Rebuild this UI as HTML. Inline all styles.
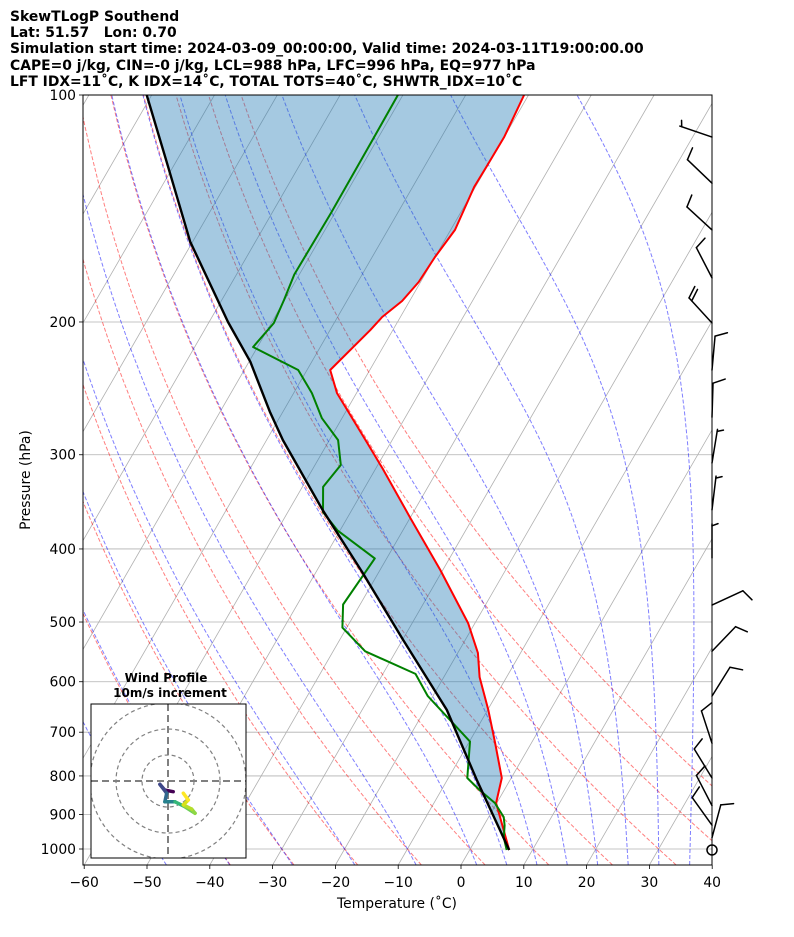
<!DOCTYPE html>
<html><head><meta charset="utf-8"><style>
html,body{margin:0;padding:0;background:#fff;}
svg{display:block;font-family:"DejaVu Sans","Liberation Sans",sans-serif;}
</style></head><body>
<svg id="chart" width="794" height="937" viewBox="0 0 794 937" xmlns="http://www.w3.org/2000/svg">
<defs><clipPath id="plotclip"><rect x="83" y="95" width="629" height="770"/></clipPath>
<clipPath id="insetclip"><rect x="91" y="704" width="155" height="154"/></clipPath></defs>
<g font-weight="bold" font-size="13.9" fill="#000" style="white-space:pre">
<text x="10" y="21">SkewTLogP Southend</text>
<text x="10" y="37" xml:space="preserve">Lat: 51.57   Lon: 0.70</text>
<text x="10" y="53">Simulation start time: 2024-03-09_00:00:00, Valid time: 2024-03-11T19:00:00.00</text>
<text x="10" y="70">CAPE=0 j/kg, CIN=-0 j/kg, LCL=988 hPa, LFC=996 hPa, EQ=977 hPa</text>
<text x="10" y="86">LFT IDX=11˚C, K IDX=14˚C, TOTAL TOTS=40˚C, SHWTR_IDX=10˚C</text>
</g>
<g id="bg" clip-path="url(#plotclip)"></g>
<g id="fillg" clip-path="url(#plotclip)"></g>
<g id="lines" clip-path="url(#plotclip)"></g>
<g id="barbs"></g>
<g id="axes"></g>
<g id="inset"></g>
</svg>
<script>
// ---- data ----
const tempP = [1003, 869, 805, 723, 654, 591.5, 549.5, 501.6, 426.6, 363, 314, 289.4, 248.5, 231.6, 205, 197, 187.6, 177, 164, 151, 132.4, 124.6, 113.7, 100];
const tempT = [6.3, -0.1, -1.5, -5.8, -9.9, -14.3, -16.8, -21.1, -30.4, -40.1, -48.7, -53.7, -63.1, -66.3, -63.6, -62.9, -61.2, -60.3, -60.0, -59.3, -60.2, -60.1, -60.0, -60.7];
const dewP = [1003, 965.8, 930.3, 907, 869, 835.4, 805, 720.4, 627, 585.8, 546.7, 508.6, 474, 411.7, 378, 357.4, 330.9, 309.5, 286.9, 268.3, 248.5, 231.6, 215.9, 200.7, 187, 173, 143.4, 113.7, 100];
const dewT = [5.9, 4.3, 3.3, 2.4, -0.3, -3.9, -7.0, -9.9, -20.8, -24.8, -34.9, -40.7, -42.7, -41.9, -50.4, -54.4, -56.7, -55.9, -58.6, -63.2, -67.1, -71.4, -80.7, -79.6, -80.1, -80.8, -80.6, -80.7, -80.8];
const parcelP = [1003, 810, 654, 528, 431, 355.5, 286.9, 263, 225.8, 200, 156.5, 122.6, 100];
const parcelT = [6.3, -5.3, -16.5, -29.9, -42.4, -54.6, -67.4, -72.1, -79.8, -87.0, -100.4, -111.5, -120.8];
const barbP = [113.7, 130.9, 151, 174.8, 200.6, 231.6, 267.5, 307.6, 355, 411, 474.7, 546.7, 627, 724, 805, 876, 930, 966];
const barbU = [4.7, 7.2, 7.4, 4.6, 13.5, -0.9, -0.3, -0.8, -0.6, 0, -9.1, -6.9, -5.3, 3.1, 5.2, 4.6, 5.8, -2.6];
const barbV = [-1.6, -6.9, -6.8, -8.9, -14.7, -10, -10, -4.9, -5, -5, -4.2, -7.2, -8.5, -9.5, -8.5, -8.9, -8.1, -9.7];
const hodoU = [2.0, -1.2, -3.1, -0.5, -1.2, 2.7, 6.5, 10.4, 9.1, 5.9, 7.8, 5.9];
const hodoV = [-4.1, -3.5, -1.3, -4.7, -8.0, -8.0, -9.9, -12.4, -10.8, -9.2, -7.3, -4.7];
const xTicks = [-60, -50, -40, -30, -20, -10, 0, 10, 20, 30, 40];
const pTicks = [100, 200, 300, 400, 500, 600, 700, 800, 900, 1000];

// ---- scales ----
const NS = "http://www.w3.org/2000/svg";
const X0 = 461, S = 6.28, K = 0.577, YB = 865;
function yP(p){ return 95 + 754*Math.log10(p/100); }
function xT(T,p){ return X0 + T*S + K*(YB - yP(p)); }
function mk(tag, attrs, parent){ const e=document.createElementNS(NS,tag); for(const k in attrs) e.setAttribute(k,attrs[k]); parent.appendChild(e); return e; }
const bg=document.getElementById('bg'), lines=document.getElementById('lines'), fillg=document.getElementById('fillg');
const barbs=document.getElementById('barbs'), axes=document.getElementById('axes'), inset=document.getElementById('inset');
function pathPts(P,T){ return P.map((p,i)=>(i?'L':'M')+xT(T[i],p).toFixed(1)+','+yP(p).toFixed(1)).join(''); }

pTicks.forEach(p=>{
  const l=mk('line',{x1:83,x2:712,y1:yP(p),y2:yP(p),stroke:'#b0b0b0','stroke-width':0.8},bg);
  
  
});
for(let T=-170;T<=40;T+=10){
  const l=mk('line',{x1:xT(T,1050),y1:yP(1050),x2:xT(T,100),y2:yP(100),stroke:'#b0b0b0','stroke-width':0.8},bg);
  
  
}
const levs=[]; for(let p=1050;p>=100;p-=10) levs.push(p);
for(let t0=-40;t0<=50;t0+=10){
  const d=levs.map((p,i)=>{const T=(t0+273.15)*Math.pow(p/1000,0.2857)-273.15; return (i?'L':'M')+xT(T,p).toFixed(1)+','+yP(p).toFixed(1);}).join('');
  const l=mk('path',{d:d,fill:'none',stroke:'rgba(255,0,0,0.5)','stroke-width':1,'stroke-dasharray':'4,2'},bg);
  
  
}
function dTdp(p,T){ const Tc=T-273.15; const es=6.112*Math.exp(17.67*Tc/(Tc+243.5)); const rs=0.622*es/(p-es);
  const Rd=287.04,Cp=1005.7,Lv=2.501e6,eps=0.622;
  return (Rd*T+Lv*rs)/(Cp+Lv*Lv*rs*eps/(Rd*T*T))/p; }
function moist(t0){
  const up=[], T0=t0+273.15; let T=T0;
  for(let p=1000;p>=100;p-=5){ up.push([p,T-273.15]); const h=-5;
    const k1=dTdp(p,T),k2=dTdp(p+h/2,T+h/2*k1),k3=dTdp(p+h/2,T+h/2*k2),k4=dTdp(p+h,T+h*k3); T+=h/6*(k1+2*k2+2*k3+k4); }
  T=T0; const dn=[];
  for(let p=1000;p<1050;p+=5){ const h=5; const k1=dTdp(p,T),k2=dTdp(p+h/2,T+h/2*k1),k3=dTdp(p+h/2,T+h/2*k2),k4=dTdp(p+h,T+h*k3); T+=h/6*(k1+2*k2+2*k3+k4); dn.push([p+h,T-273.15]); }
  return dn.reverse().concat(up);
}
[-50,-40,-30,-20,-10,0,5,10,15,20,25,30,35,40].forEach(t0=>{
  const pts=moist(t0);
  const d=pts.map((q,i)=>(i?'L':'M')+xT(q[1],q[0]).toFixed(1)+','+yP(q[0]).toFixed(1)).join('');
  const l=mk('path',{d:d,fill:'none',stroke:'rgba(0,0,255,0.5)','stroke-width':1,'stroke-dasharray':'4,2'},bg);
  
  
});

const fd=pathPts(parcelP,parcelT)+pathPts(tempP.slice().reverse(),tempT.slice().reverse()).replace('M','L')+'Z';
const fp=mk('path',{d:fd,fill:'rgba(31,119,180,0.4)',stroke:'none'},fillg);



const tl=mk('path',{d:pathPts(tempP,tempT),fill:'none',stroke:'#ff0000','stroke-width':2,'stroke-linejoin':'round'},lines);


const dl=mk('path',{d:pathPts(dewP,dewT),fill:'none',stroke:'#008000','stroke-width':2,'stroke-linejoin':'round'},lines);


const pl=mk('path',{d:pathPts(parcelP,parcelT),fill:'none',stroke:'#000','stroke-width':2.4,'stroke-linejoin':'round'},lines);



barbP.forEach((p,i)=>{
  const u=barbU[i], v=barbV[i], spd=Math.hypot(u,v);
  const g=mk('g',{stroke:'#000','stroke-width':1.5,fill:'none','stroke-linecap':'round'},barbs);
  
  
  const bx=712, by=yP(p);
  const dx=-u/spd, dy=v/spd;
  const L=34, tx=bx+dx*L, ty=by+dy*L;
  mk('line',{x1:bx,y1:by,x2:tx,y2:ty},g);
  const px=-dy, py=dx;
  let n=Math.round(spd/5), full=Math.floor(n/2), half=n%2, pos=0;
  for(let k=0;k<full;k++){ const sx=tx-dx*pos, sy=ty-dy*pos; mk('line',{x1:sx,y1:sy,x2:sx+px*12+dx*4.5,y2:sy+py*12+dy*4.5},g); pos+=4; }
  if(half){ if(full===0) pos=2; const sx=tx-dx*pos, sy=ty-dy*pos; mk('line',{x1:sx,y1:sy,x2:sx+px*6+dx*2.2,y2:sy+py*6+dy*2.2},g); }
});
const calm=mk('circle',{cx:712,cy:yP(1003),r:5,fill:'none',stroke:'#000','stroke-width':1.5},barbs);



const fr=mk('rect',{x:83,y:95,width:629,height:770,fill:'none',stroke:'#000','stroke-width':1},axes);


xTicks.forEach(T=>{
  const x=X0+T*S;
  mk('line',{x1:x,x2:x,y1:865,y2:869,stroke:'#000','stroke-width':0.8},axes);
  const t=mk('text',{x:x,y:887,'text-anchor':'middle','font-size':13.9},axes);
  t.textContent=(T<0?'\u2212':'')+Math.abs(T);
  
  
});
pTicks.forEach(p=>{
  const y=yP(p);
  mk('line',{x1:79,x2:83,y1:y,y2:y,stroke:'#000','stroke-width':0.8},axes);
  const t=mk('text',{x:76,y:y+5,'text-anchor':'end','font-size':13.9},axes);
  t.textContent=String(p);
  
  
});
const xl=mk('text',{x:397,y:908,'text-anchor':'middle','font-size':13.9},axes);
xl.textContent='Temperature (\u02DAC)';


const yl=mk('text',{x:0,y:0,'text-anchor':'middle','font-size':13.9,transform:'translate(30,480) rotate(-90)'},axes);
yl.textContent='Pressure (hPa)';



const ib=mk('rect',{x:91,y:704,width:155,height:154,fill:'#fff',stroke:'none'},inset);


const cx=168, cy=781, ppm=2.6;
const ig=mk('g',{'clip-path':'url(#insetclip)'},inset);
[10,20,30].forEach(r=>{
  const c=mk('circle',{cx:cx,cy:cy,r:r*ppm,fill:'none',stroke:'#808080','stroke-width':1.2,'stroke-dasharray':'4,3'},ig);
  
  
});
mk('line',{x1:91,x2:246,y1:cy,y2:cy,stroke:'#808080','stroke-width':2,'stroke-dasharray':'7,4'},ig);
mk('line',{x1:cx,x2:cx,y1:704,y2:858,stroke:'#808080','stroke-width':2,'stroke-dasharray':'7,4'},ig);
const vir=['#440154','#482878','#3e4989','#31688e','#26828e','#1f9e89','#35b779','#6ece58','#8fd744','#b5de2b','#d8e219','#fde725'];
for(let i=0;i<hodoU.length-1;i++){
  const s=mk('line',{x1:cx+hodoU[i]*ppm,y1:cy-hodoV[i]*ppm,x2:cx+hodoU[i+1]*ppm,y2:cy-hodoV[i+1]*ppm,stroke:vir[Math.round(i*(vir.length-1)/(hodoU.length-2))],'stroke-width':3.5,'stroke-linecap':'round'},ig);
  
  
}
const ibr=mk('rect',{x:91,y:704,width:155,height:154,fill:'none',stroke:'#000','stroke-width':1},inset);


const it1=mk('text',{x:166,y:682,'text-anchor':'middle','font-size':12,'font-weight':'bold'},inset);
it1.textContent='Wind Profile';


const it2=mk('text',{x:170,y:697,'text-anchor':'middle','font-size':12,'font-weight':'bold'},inset);
it2.textContent='10m/s increment';


</script>
</body></html>
